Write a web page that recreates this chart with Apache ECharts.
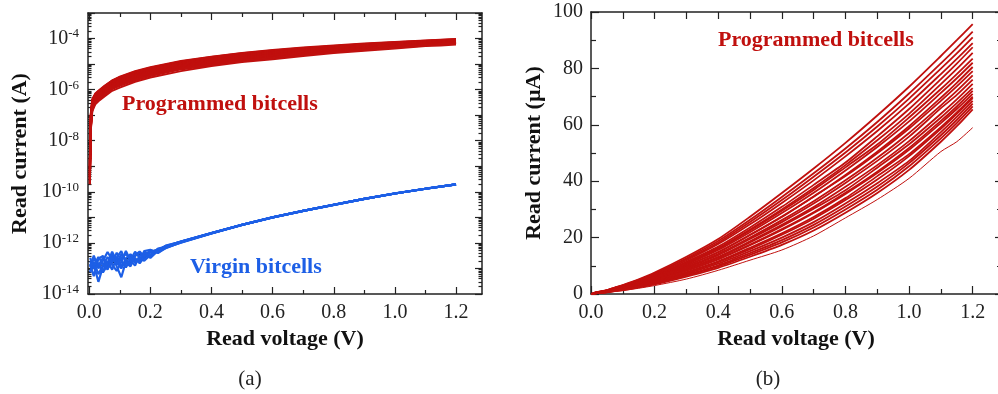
<!DOCTYPE html>
<html><head><meta charset="utf-8">
<script src="https://cdn.jsdelivr.net/npm/echarts@6/dist/echarts.min.js"></script>
<style>html,body{margin:0;padding:0;background:#fff}#c{width:998px;height:394px}</style>
</head><body><div id="c"></div>
<script>
// ---------- data ----------
const voltageV = [0.002,0.005,0.01,0.02,0.03,0.05,0.075,0.1,0.15,0.2,0.3,0.4,0.5,0.6,0.7,0.8,0.9,1.0,1.1,1.15,1.2];
// programmed bitcells, read current in µA at voltageV
const programmedUA = [
  [0.0016,0.11,0.42,0.70,0.91,1.40,2.27,3.20,5.24,7.60,13.2,19.5,27.4,35.8,44.5,53.6,63.3,73.5,84.4,90.0,95.7],
  [0.0012,0.10,0.40,0.67,0.87,1.34,2.27,3.06,5.01,7.28,12.7,18.8,26.3,34.4,42.8,51.6,61.0,71.1,81.8,87.3,93.0],
  [0.0010,0.09,0.38,0.64,0.83,1.30,2.19,2.96,4.85,7.05,12.3,18.2,25.5,33.3,41.6,50.2,59.4,69.3,79.9,85.3,91.0],
  [0.0014,0.085,0.36,0.62,0.81,1.26,2.13,2.87,4.70,6.83,11.9,17.7,24.7,32.3,40.3,48.8,57.8,67.5,78.0,83.4,89.0],
  [0.0009,0.08,0.35,0.58,0.75,1.18,2.01,2.72,4.47,6.49,11.4,16.8,23.6,30.9,38.7,46.6,55.9,65.6,76.2,81.7,87.5],
  [0.0008,0.075,0.33,0.56,0.73,1.15,1.95,2.64,4.33,6.29,11.0,16.3,22.9,30.0,37.6,45.7,54.5,63.9,74.4,79.8,85.5],
  [0.0011,0.07,0.32,0.55,0.72,1.12,1.92,2.60,4.27,6.20,10.8,16.0,22.5,29.5,36.9,44.9,53.0,62.6,72.7,78.0,83.5],
  [0.0007,0.068,0.31,0.53,0.69,1.08,1.86,2.53,4.14,6.01,10.5,15.6,21.9,28.7,35.9,43.8,52.1,61.2,71.3,76.5,82.0],
  [0.0006,0.06,0.29,0.50,0.65,1.02,1.76,2.40,3.94,5.72,10.1,14.9,21.0,27.5,34.5,42.2,50.5,59.5,69.6,74.9,80.5],
  [0.0009,0.062,0.29,0.50,0.65,1.03,1.76,2.39,3.92,5.70,10.0,14.8,20.9,27.3,34.6,41.8,49.9,58.7,68.5,73.6,79.0],
  [0.0005,0.055,0.27,0.47,0.61,0.97,1.67,2.28,3.75,5.45,9.59,14.2,20.0,26.2,32.9,40.3,48.3,57.1,66.9,72.0,77.5],
  [0.0006,0.052,0.26,0.46,0.60,0.95,1.63,2.22,3.65,5.30,9.33,13.8,19.5,25.5,32.1,39.4,47.2,55.8,65.9,70.6,76.0],
  [0.0004,0.048,0.25,0.44,0.57,0.90,1.56,2.12,3.48,5.05,8.93,13.2,18.7,24.5,30.8,38.0,45.7,54.2,63.9,69.0,74.5],
  [0.0005,0.046,0.24,0.43,0.56,0.88,1.52,2.07,3.40,4.95,8.75,12.9,18.3,24.0,30.2,36.8,44.8,53.1,62.6,67.7,73.0],
  [0.0004,0.042,0.23,0.40,0.52,0.83,1.44,1.97,3.24,4.71,8.34,12.4,17.5,23.0,29.0,35.9,43.4,51.8,61.4,66.5,72.0],
  [0.0003,0.041,0.22,0.40,0.52,0.82,1.43,1.95,3.21,4.66,8.26,12.3,17.3,22.7,28.7,35.5,42.9,51.1,60.6,65.6,71.0],
  [0.0004,0.037,0.21,0.37,0.48,0.77,1.33,1.82,3.00,4.36,7.78,11.6,16.4,21.5,27.3,34.0,41.8,49.6,59.2,64.4,70.0],
  [0.0003,0.036,0.20,0.36,0.47,0.75,1.30,1.77,2.91,4.24,7.58,11.3,15.9,21.0,26.7,33.3,40.6,48.9,58.6,63.9,69.5],
  [0.0003,0.033,0.19,0.34,0.44,0.71,1.22,1.66,2.75,4.01,7.20,10.75,15.2,20.0,25.5,32.1,39.3,47.2,57.4,62.8,68.5],
  [0.0002,0.031,0.18,0.33,0.43,0.68,1.16,1.57,2.60,3.80,6.86,10.2,14.5,19.1,24.5,31.0,38.1,46.4,56.3,61.7,67.5],
  [0.0003,0.029,0.17,0.31,0.40,0.65,1.11,1.50,2.48,3.62,6.56,9.8,13.9,18.3,23.6,30.0,37.0,45.3,55.2,60.6,66.5],
  [0.0002,0.027,0.16,0.30,0.39,0.62,1.04,1.40,2.33,3.40,6.20,9.3,13.2,17.4,22.5,28.8,35.8,44.0,54.0,59.5,65.5],
  [0.0002,0.024,0.14,0.27,0.35,0.54,0.90,1.20,2.04,3.00,5.30,8.4,12.0,15.6,20.6,27.0,33.5,41.0,50.5,54.0,59.0]
];
// virgin bitcells, read current in units of 1e-13 A at virginV
const virginV = [0.003,0.015,0.03,0.045,0.06,0.075,0.09,0.105,0.12,0.135,0.15,0.165,0.18,0.2,0.225,0.25,0.3,0.4,0.5,0.6,0.7,0.8,0.9,1.0,1.1,1.2];
const virginE13 = [
  [1.2,3.2,1.0,2.0,4.4,2.2,1.6,3.6,2.0,1.7,3.0,4.3,2.4,4.6,4.6,7.2,10.8,24.0,51.0,100,180,310,530,860,1320,1950],
  [0.8,1.4,0.3,1.2,1.9,0.9,2.8,1.3,1.5,3.4,1.9,2.2,4.4,3.0,5.3,7.5,11.2,24.5,51.5,101,181,312,532,863,1323,1955],
  [2.6,1.1,1.6,0.7,1.4,3.6,1.2,0.45,1.9,1.4,2.6,1.6,2.7,5.0,4.0,6.4,10.5,23.7,50.4,99,179,309,529,858,1318,1948],
  [1.5,0.5,2.4,3.1,1.0,1.7,4.1,2.0,1.1,2.2,4.5,2.6,2.0,3.4,6.0,7.0,11.4,24.2,51.2,100.5,180.5,311,531,861,1321,1952],
  [0.7,1.8,0.6,1.3,2.8,1.4,0.8,1.8,4.8,2.0,1.3,3.3,3.6,2.6,5.0,7.8,11.0,23.9,50.8,99.5,179.5,310,530,859,1319,1950],
  [1.9,1.0,1.3,2.6,1.6,4.5,1.9,1.0,2.5,3.6,2.1,1.8,4.8,5.4,4.3,6.2,10.7,24.1,51.1,100.2,180.2,310.5,530.5,860,1320,1951],
  [1.1,2.4,1.5,0.8,1.6,1.9,2.7,4.8,1.7,1.2,3.3,4.6,2.9,4.2,5.6,7.1,11.3,24.3,51.3,100.8,180.8,311.5,531.5,862,1322,1953],
  [1.6,1.3,2.8,1.5,0.9,2.8,1.4,2.6,3.6,2.5,1.7,2.4,3.9,4.4,4.8,6.6,10.3,23.6,50.6,99.8,179.8,309.5,529.5,859.5,1319.5,1949]
];
// black dashed reference line (A)
const fitV = [0.005,0.05,0.1,0.15,0.2,0.25,0.3,0.4,0.5,0.6,0.7,0.8,0.9,1.0,1.1,1.2];
const fitA = [1.1e-13,1.4e-13,2e-13,3e-13,4.5e-13,6.8e-13,1.05e-12,2.35e-12,5e-12,9.9e-12,1.79e-11,3.1e-11,5.3e-11,8.6e-11,1.32e-10,1.95e-10];

// tick labels
const xLabelValues = [0,0.2,0.4,0.6,0.8,1.0,1.2];
const xMinorValues = [0.1,0.3,0.5,0.7,0.9,1.1];
const logLabelValues = [1e-14,1e-12,1e-10,1e-8,1e-6,1e-4];
const linLabelValues = [0,20,40,60,80,100];
const linMinorValues = [10,30,50,70,90];

// ---------- styling ----------
const FONT = '"Liberation Serif","Times New Roman",serif';
const INK = '#222';
const RED = '#c0100e';
const BLUE = '#1d5fe6';

const logMajor = [], logMinor = [];
for (let e = -14; e <= -3; e++) {
  logMajor.push(Number('1e' + e));
  if (e < -3) for (let k = 2; k <= 9; k++) logMinor.push(Number(k + 'e' + e));
}

function baseAxis(gridIndex, position, type, min, max, ticks, len, line) {
  const a = {
    type: type, gridIndex: gridIndex, position: position, min: min, max: max,
    axisLine: {show: line, onZero: false, lineStyle: {color: INK, width: 1.5}},
    axisTick: {show: true, inside: true, length: len, customValues: ticks, lineStyle: {color: INK, width: 1.2}},
    axisLabel: {show: false},
    splitLine: {show: false}
  };
  if (type === 'log') a.logBase = 10;
  return a;
}

const X0MIN = -0.004, X0MAX = 1.285, X1MIN = 0, X1MAX = 1.289;
const nameStyle = {fontFamily: FONT, fontWeight: 'bold', fontSize: 22, color: '#111'};

const xAxes = [];
const xl = baseAxis(0, 'bottom', 'value', X0MIN, X0MAX, xLabelValues, 7, true);
xl.axisLabel = {show: true, customValues: xLabelValues, formatter: v => v.toFixed(1), margin: 9, fontFamily: FONT, fontSize: 20, color: INK};
xl.name = 'Read voltage (V)'; xl.nameLocation = 'middle'; xl.nameGap = 24; xl.nameTextStyle = nameStyle;
xAxes.push(xl);
xAxes.push(baseAxis(0, 'bottom', 'value', X0MIN, X0MAX, xMinorValues, 4, false));
xAxes.push(baseAxis(0, 'top', 'value', X0MIN, X0MAX, xLabelValues, 7, true));
xAxes.push(baseAxis(0, 'top', 'value', X0MIN, X0MAX, xMinorValues, 4, false));
const xr = baseAxis(1, 'bottom', 'value', X1MIN, X1MAX, xLabelValues, 8, true);
xr.axisLabel = {show: true, customValues: xLabelValues, formatter: v => v.toFixed(1), margin: 9, fontFamily: FONT, fontSize: 20, color: INK};
xr.name = 'Read voltage (V)'; xr.nameLocation = 'middle'; xr.nameGap = 24; xr.nameTextStyle = nameStyle;
xAxes.push(xr);
xAxes.push(baseAxis(1, 'bottom', 'value', X1MIN, X1MAX, xMinorValues, 5, false));
xAxes.push(baseAxis(1, 'top', 'value', X1MIN, X1MAX, xLabelValues, 7, true));
xAxes.push(baseAxis(1, 'top', 'value', X1MIN, X1MAX, xMinorValues, 7, false));

const yAxes = [];
const yl = baseAxis(0, 'left', 'log', 1e-14, 1e-3, logMajor, 7, true);
yl.axisLabel = {
  show: true, customValues: logLabelValues, margin: 9,
  formatter: v => '{b|10}{s|' + Math.round(Math.log10(v)) + '}',
  rich: {
    b: {fontFamily: FONT, fontSize: 20, color: INK, lineHeight: 22},
    s: {fontFamily: FONT, fontSize: 13, color: INK, verticalAlign: 'top', lineHeight: 22}
  }
};
yl.name = 'Read current (A)'; yl.nameLocation = 'middle'; yl.nameGap = 57; yl.nameRotate = 90; yl.nameTextStyle = nameStyle;
yAxes.push(yl);
yAxes.push(baseAxis(0, 'left', 'log', 1e-14, 1e-3, logMinor, 3.5, false));
yAxes.push(baseAxis(0, 'right', 'log', 1e-14, 1e-3, logMajor, 7, true));
yAxes.push(baseAxis(0, 'right', 'log', 1e-14, 1e-3, logMinor, 3.5, false));
const yr = baseAxis(1, 'left', 'value', 0, 100, linLabelValues, 8, true);
yr.axisLabel = {show: true, customValues: linLabelValues, margin: 8, fontFamily: FONT, fontSize: 20, color: INK};
yr.name = 'Read current (\u00b5A)'; yr.nameLocation = 'middle'; yr.nameGap = 46; yr.nameRotate = 90; yr.nameTextStyle = nameStyle;
yAxes.push(yr);
yAxes.push(baseAxis(1, 'left', 'value', 0, 100, linMinorValues, 5, false));
yAxes.push(baseAxis(1, 'right', 'value', 0, 100, linLabelValues, 6, false));
yAxes.push(baseAxis(1, 'right', 'value', 0, 100, linMinorValues, 4, false));

const series = [];
programmedUA.forEach(c => {
  series.push({
    type: 'line', xAxisIndex: 0, yAxisIndex: 0, symbol: 'none', silent: true,
    lineStyle: {color: RED, width: 2}, data: voltageV.map((v, i) => [v, c[i] * 1e-6])
  });
});
series.push({
  type: 'line', xAxisIndex: 0, yAxisIndex: 0, symbol: 'none', silent: true,
  lineStyle: {color: '#000', width: 1.5, type: [4, 3]}, data: fitV.map((v, i) => [v, fitA[i]])
});
virginE13.forEach(c => {
  series.push({
    type: 'line', xAxisIndex: 0, yAxisIndex: 0, symbol: 'none', silent: true,
    lineStyle: {color: BLUE, width: 2.2}, data: virginV.map((v, i) => [v, c[i] * 1e-13])
  });
});
programmedUA.forEach((c, idx) => {
  series.push({
    type: 'line', xAxisIndex: 4, yAxisIndex: 4, symbol: 'none', silent: true, smooth: 0.25,
    lineStyle: {color: RED, width: idx === programmedUA.length - 1 ? 1 : 1.8},
    data: [[0, 0]].concat(voltageV.map((v, i) => [v, c[i]]))
  });
});

const chart = echarts.init(document.getElementById('c'), null, {renderer: 'canvas'});
chart.setOption({
  animation: false,
  backgroundColor: '#fff',
  grid: [
    {left: 88, top: 13, width: 394, height: 281, outerBoundsMode: 'none', containLabel: false},
    {left: 591, top: 12, width: 410, height: 282, outerBoundsMode: 'none', containLabel: false}
  ],
  xAxis: xAxes,
  yAxis: yAxes,
  series: series,
  graphic: [
    {type: 'text', x: 122, y: 104, silent: true, style: {text: 'Programmed bitcells', font: 'bold 22px ' + FONT, fill: RED, verticalAlign: 'middle'}},
    {type: 'text', x: 190, y: 267, silent: true, style: {text: 'Virgin bitcells', font: 'bold 22px ' + FONT, fill: BLUE, verticalAlign: 'middle'}},
    {type: 'text', x: 718, y: 40, silent: true, style: {text: 'Programmed bitcells', font: 'bold 22px ' + FONT, fill: RED, verticalAlign: 'middle'}},
    {type: 'text', x: 250, y: 379, silent: true, style: {text: '(a)', font: '21px ' + FONT, fill: '#222', align: 'center', verticalAlign: 'middle'}},
    {type: 'text', x: 768, y: 379, silent: true, style: {text: '(b)', font: '21px ' + FONT, fill: '#222', align: 'center', verticalAlign: 'middle'}}
  ]
});
</script></body></html>
